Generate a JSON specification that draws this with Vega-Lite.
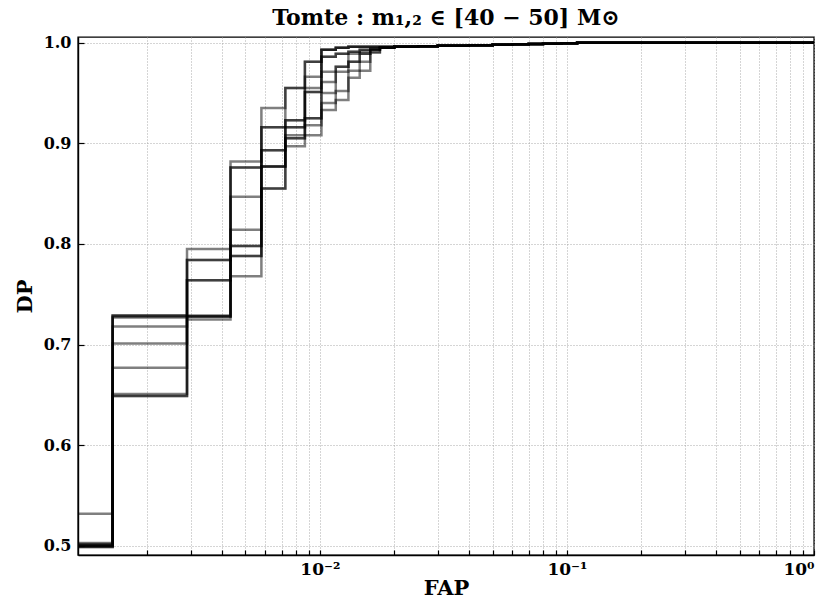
{
  "$schema": "https://vega.github.io/schema/vega-lite/v6.json",
  "autosize": {"type": "none"},
  "padding": {"left": 78, "top": 37, "right": 16, "bottom": 54},
  "width": 736,
  "height": 518,
  "background": "white",
  "config": {
    "view": {"stroke": "black", "strokeWidth": 1.4},
    "font": "DejaVu Serif",
    "axis": {
      "labelFont": "DejaVu Serif",
      "labelFontWeight": "bold",
      "labelFontSize": 16,
      "labelColor": "black",
      "titleFont": "DejaVu Serif",
      "titleFontWeight": "bold",
      "titleFontSize": 21,
      "titleColor": "black",
      "domainColor": "black",
      "domainWidth": 1.4,
      "tickColor": "black",
      "tickWidth": 1.2,
      "gridColor": "#a0a0a0",
      "gridDash": [1, 2],
      "gridWidth": 0.9,
      "gridOpacity": 1
    }
  },
  "title": {
    "text": "Tomte : m₁,₂ ∈ [40 − 50] M⊙",
    "font": "DejaVu Serif",
    "fontWeight": "bold",
    "fontSize": 22,
    "color": "black",
    "offset": 5
  },
  "data": {
    "values": [
      {"fap": 0.00105, "c1": 0.532, "c2": 0.503, "c3": 0.501, "c4": 0.500, "c5": 0.500, "c6": 0.500, "c7": 0.499, "c8": 0.499, "c9": 0.501, "c10": 0.502},
      {"fap": 0.00145, "c1": 0.718, "c2": 0.729, "c3": 0.728, "c4": 0.701, "c5": 0.677, "c6": 0.651, "c7": 0.649, "c8": 0.649, "c9": 0.727, "c10": 0.729},
      {"fap": 0.0029, "c1": 0.795, "c2": 0.729, "c3": 0.728, "c4": 0.784, "c5": 0.764, "c6": 0.725, "c7": 0.728, "c8": 0.764, "c9": 0.728, "c10": 0.784},
      {"fap": 0.00435, "c1": 0.814, "c2": 0.882, "c3": 0.876, "c4": 0.798, "c5": 0.768, "c6": 0.847, "c7": 0.788, "c8": 0.788, "c9": 0.876, "c10": 0.798},
      {"fap": 0.0058, "c1": 0.935, "c2": 0.893, "c3": 0.877, "c4": 0.855, "c5": 0.893, "c6": 0.916, "c7": 0.877, "c8": 0.855, "c9": 0.877, "c10": 0.916},
      {"fap": 0.00725, "c1": 0.955, "c2": 0.923, "c3": 0.916, "c4": 0.897, "c5": 0.905, "c6": 0.955, "c7": 0.916, "c8": 0.908, "c9": 0.905, "c10": 0.923},
      {"fap": 0.0087, "c1": 0.981, "c2": 0.966, "c3": 0.951, "c4": 0.925, "c5": 0.918, "c6": 0.981, "c7": 0.955, "c8": 0.925, "c9": 0.908, "c10": 0.951},
      {"fap": 0.01015, "c1": 0.993, "c2": 0.986, "c3": 0.993, "c4": 0.950, "c5": 0.940, "c6": 0.993, "c7": 0.986, "c8": 0.961, "c9": 0.933, "c10": 0.971},
      {"fap": 0.0116, "c1": 0.995, "c2": 0.989, "c3": 0.995, "c4": 0.971, "c5": 0.952, "c6": 0.995, "c7": 0.989, "c8": 0.976, "c9": 0.943, "c10": 0.976},
      {"fap": 0.01305, "c1": 0.996, "c2": 0.991, "c3": 0.996, "c4": 0.981, "c5": 0.965, "c6": 0.996, "c7": 0.991, "c8": 0.989, "c9": 0.972, "c10": 0.981},
      {"fap": 0.0145, "c1": 0.996, "c2": 0.993, "c3": 0.996, "c4": 0.989, "c5": 0.972, "c6": 0.996, "c7": 0.993, "c8": 0.991, "c9": 0.981, "c10": 0.989},
      {"fap": 0.016, "c1": 0.996, "c2": 0.994, "c3": 0.996, "c4": 0.993, "c5": 0.990, "c6": 0.996, "c7": 0.994, "c8": 0.993, "c9": 0.991, "c10": 0.993},
      {"fap": 0.0175, "c1": 0.996, "c2": 0.995, "c3": 0.996, "c4": 0.995, "c5": 0.995, "c6": 0.996, "c7": 0.995, "c8": 0.995, "c9": 0.995, "c10": 0.995},
      {"fap": 0.02, "c1": 0.996, "c2": 0.996, "c3": 0.996, "c4": 0.996, "c5": 0.996, "c6": 0.996, "c7": 0.996, "c8": 0.996, "c9": 0.996, "c10": 0.996},
      {"fap": 0.025, "c1": 0.9965, "c2": 0.9965, "c3": 0.9965, "c4": 0.9965, "c5": 0.9965, "c6": 0.9965, "c7": 0.9965, "c8": 0.9965, "c9": 0.9965, "c10": 0.9965},
      {"fap": 0.03, "c1": 0.997, "c2": 0.997, "c3": 0.997, "c4": 0.997, "c5": 0.997, "c6": 0.997, "c7": 0.997, "c8": 0.997, "c9": 0.997, "c10": 0.997},
      {"fap": 0.04, "c1": 0.9975, "c2": 0.9975, "c3": 0.9975, "c4": 0.9975, "c5": 0.9975, "c6": 0.9975, "c7": 0.9975, "c8": 0.9975, "c9": 0.9975, "c10": 0.9975},
      {"fap": 0.05, "c1": 0.998, "c2": 0.998, "c3": 0.998, "c4": 0.998, "c5": 0.998, "c6": 0.998, "c7": 0.998, "c8": 0.998, "c9": 0.998, "c10": 0.998},
      {"fap": 0.06, "c1": 0.9983, "c2": 0.9983, "c3": 0.9983, "c4": 0.9983, "c5": 0.9983, "c6": 0.9983, "c7": 0.9983, "c8": 0.9983, "c9": 0.9983, "c10": 0.9983},
      {"fap": 0.07, "c1": 0.9987, "c2": 0.9987, "c3": 0.9987, "c4": 0.9987, "c5": 0.9987, "c6": 0.9987, "c7": 0.9987, "c8": 0.9987, "c9": 0.9987, "c10": 0.9987},
      {"fap": 0.08, "c1": 0.999, "c2": 0.999, "c3": 0.999, "c4": 0.999, "c5": 0.999, "c6": 0.999, "c7": 0.999, "c8": 0.999, "c9": 0.999, "c10": 0.999},
      {"fap": 0.095, "c1": 0.9995, "c2": 0.9995, "c3": 0.9995, "c4": 0.9995, "c5": 0.9995, "c6": 0.9995, "c7": 0.9995, "c8": 0.9995, "c9": 0.9995, "c10": 0.9995},
      {"fap": 0.11, "c1": 1.0, "c2": 1.0, "c3": 1.0, "c4": 1.0, "c5": 1.0, "c6": 1.0, "c7": 1.0, "c8": 1.0, "c9": 1.0, "c10": 1.0},
      {"fap": 1.0, "c1": 1.0, "c2": 1.0, "c3": 1.0, "c4": 1.0, "c5": 1.0, "c6": 1.0, "c7": 1.0, "c8": 1.0, "c9": 1.0, "c10": 1.0}
    ]
  },
  "transform": [
    {"fold": ["c1", "c2", "c3", "c4", "c5", "c6", "c7", "c8", "c9", "c10"], "as": ["curve", "dp"]}
  ],
  "mark": {"type": "line", "interpolate": "step-after", "color": "black", "opacity": 0.5, "strokeWidth": 2.5, "clip": true},
  "encoding": {
    "x": {
      "field": "fap",
      "type": "quantitative",
      "scale": {"type": "log", "domain": [0.00105, 1], "nice": false},
      "axis": {
        "title": "FAP",
        "values": [0.002, 0.003, 0.004, 0.005, 0.006, 0.007, 0.008, 0.009, 0.01, 0.02, 0.03, 0.04, 0.05, 0.06, 0.07, 0.08, 0.09, 0.1, 0.2, 0.3, 0.4, 0.5, 0.6, 0.7, 0.8, 0.9, 1],
        "labelExpr": "datum.value > 0.0099 && datum.value < 0.0101 ? '10⁻²' : (datum.value > 0.099 && datum.value < 0.101 ? '10⁻¹' : (datum.value > 0.99 ? '10⁰' : ''))",
        "labelFontSize": 17,
        "tickSize": -5,
        "labelPadding": 11,
        "titlePadding": 0,
        "grid": true
      }
    },
    "y": {
      "field": "dp",
      "type": "quantitative",
      "scale": {"domain": [0.491, 1.0056], "nice": false, "zero": false},
      "axis": {
        "title": "DP",
        "values": [0.5, 0.6, 0.7, 0.8, 0.9, 1.0],
        "format": ".1f",
        "tickSize": -6,
        "labelPadding": 13,
        "titlePadding": 8,
        "grid": true
      }
    },
    "detail": {"field": "curve", "type": "nominal"}
  }
}
